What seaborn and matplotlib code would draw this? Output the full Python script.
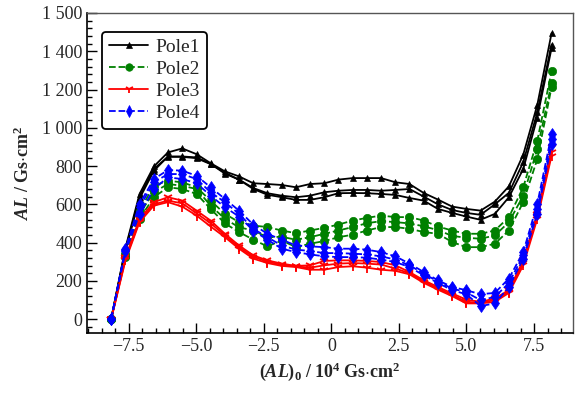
import numpy as np
import pandas as pd
import seaborn as sns
import matplotlib
matplotlib.use('Agg')
import matplotlib.pyplot as plt
from matplotlib.ticker import MultipleLocator, FixedLocator, FuncFormatter

# x positions of the measurement points, (AL)0 in 10^4 Gs*cm^2
x = [-8.15, -7.62, -7.10, -6.57, -6.05, -5.52, -4.99, -4.47, -3.94, -3.42, -2.89,
     -2.37, -1.84, -1.31, -0.79, -0.26, 0.26, 0.79, 1.31, 1.84, 2.37, 2.89, 3.42,
     3.94, 4.47, 4.99, 5.52, 6.05, 6.57, 7.10, 7.62, 8.15]

# each pole was measured three times -> three curves per pole
pole1 = [
    [0, 373, 654, 798, 871, 892, 862, 815, 772, 746, 710, 706, 701, 689, 706, 710,
     729, 737, 737, 737, 715, 706, 659, 625, 588, 576, 567, 614, 694, 859, 1119, 1495],
    [0, 365, 640, 785, 848, 848, 841, 810, 765, 729, 685, 658, 645, 637, 645, 663,
     671, 675, 675, 671, 675, 680, 640, 600, 570, 555, 545, 600, 660, 820, 1080, 1435],
    [0, 360, 630, 775, 850, 850, 845, 812, 760, 729, 680, 650, 637, 623, 623, 637,
     658, 659, 658, 654, 649, 633, 619, 576, 555, 536, 519, 550, 637, 784, 1053, 1417],
]
pole2 = [
    [0, 342, 567, 697, 723, 715, 689, 619, 550, 507, 489, 481, 463, 449, 463, 477,
     494, 515, 529, 541, 533, 533, 515, 484, 463, 446, 446, 463, 533, 689, 932, 1296],
    [0, 330, 550, 663, 706, 697, 680, 593, 524, 480, 463, 428, 430, 415, 428, 446,
     463, 481, 501, 512, 507, 500, 485, 465, 435, 425, 420, 437, 507, 645, 888, 1235],
    [0, 325, 524, 637, 689, 680, 654, 576, 500, 455, 415, 380, 411, 376, 394, 408,
     428, 441, 463, 481, 481, 472, 455, 446, 403, 376, 376, 394, 463, 611, 836, 1213],
]
pole3 = [
    [0, 325, 524, 611, 637, 619, 567, 515, 446, 385, 333, 307, 290, 278, 281, 304,
     307, 307, 304, 298, 281, 246, 203, 168, 134, 102, 90, 108, 151, 307, 550, 897],
    [0, 315, 515, 600, 619, 605, 553, 501, 437, 376, 325, 300, 284, 275, 269, 281,
     290, 293, 290, 285, 264, 240, 196, 160, 127, 90, 86, 99, 144, 294, 537, 871],
    [0, 307, 507, 593, 611, 588, 541, 484, 428, 368, 316, 293, 278, 272, 258, 258,
     272, 276, 269, 258, 252, 234, 189, 154, 120, 82, 82, 90, 137, 281, 524, 854],
]
pole4 = [
    [0, 368, 602, 732, 779, 776, 749, 689, 628, 567, 494, 446, 415, 385, 380, 376,
     368, 368, 363, 350, 328, 290, 246, 203, 168, 151, 130, 137, 212, 350, 602, 966],
    [0, 362, 585, 715, 758, 758, 732, 663, 611, 550, 472, 428, 385, 363, 356, 345,
     345, 342, 338, 328, 311, 281, 238, 196, 160, 140, 99, 116, 189, 333, 576, 940],
    [0, 355, 550, 680, 741, 732, 710, 645, 585, 536, 463, 415, 368, 350, 338, 328,
     324, 324, 321, 311, 298, 272, 229, 189, 151, 130, 68, 82, 168, 316, 550, 914],
]

labels = ['Pole1', 'Pole2', 'Pole3', 'Pole4']
poles = [pole1, pole2, pole3, pole4]
colors = ['black', '#008000', '#ff0000', '#0000ff']
styles = ['-', '--', '-', '--']
markers = ['^', 'o', '1', 'd']
msizes = [5, 6, 7, 6.5]

sns.set_style('ticks')
plt.rcParams['font.family'] = ['Liberation Serif', 'DejaVu Serif']
plt.rcParams['mathtext.fontset'] = 'custom'
plt.rcParams['mathtext.rm'] = 'Liberation Serif'
plt.rcParams['mathtext.it'] = 'Liberation Serif:italic'
plt.rcParams['mathtext.bf'] = 'Liberation Serif:bold'
plt.rcParams['mathtext.bfit'] = 'Liberation Serif:italic:bold'

fig = plt.figure(figsize=(5.79, 3.93), dpi=100)
ax = fig.add_axes([0.150, 0.153, 0.840, 0.814])

for lab, curves, c, ls, m, ms in zip(labels, poles, colors, styles, markers, msizes):
    for i, ys in enumerate(curves):
        df = pd.DataFrame({'x': x, 'y': ys})
        sns.lineplot(data=df, x='x', y='y', ax=ax, color=c, linestyle=ls,
                     marker=m, markersize=ms, markeredgewidth=1.3 if m == '1' else 0.5,
                     markeredgecolor=c, linewidth=1.3,
                     label=lab if i == 0 else None, legend=False)

ax.set_xlim(-9.05, 8.95)
ax.set_ylim(-72, 1600)

ax.xaxis.set_major_locator(FixedLocator([-7.5, -5.0, -2.5, 0, 2.5, 5.0, 7.5]))
ax.xaxis.set_minor_locator(MultipleLocator(0.5))
ax.xaxis.set_major_formatter(FuncFormatter(
    lambda v, p: '0' if abs(v) < 1e-9 else ('%.1f' % v).replace('-', '\u2212')))

ytick_vals = [0, 200, 400, 600, 800, 1000, 1200, 1400, 1600]
ytick_text = ['0', '200', '400', '600', '800', '1 000', '1 200', '1 400', '1 500']
ax.yaxis.set_major_locator(FixedLocator(ytick_vals))
ax.set_yticklabels(ytick_text)
ax.yaxis.set_minor_locator(MultipleLocator(40))

ax.tick_params(axis='both', which='major', direction='in', length=7, width=1,
               labelsize=13, top=False, right=False, color='black')
ax.tick_params(axis='both', which='minor', direction='in', length=3.5, width=1,
               top=False, right=False, color='black')

for side in ['left', 'bottom']:
    ax.spines[side].set_color('black')
    ax.spines[side].set_linewidth(1.2)
for side in ['top', 'right']:
    ax.spines[side].set_color('#555555')
    ax.spines[side].set_linewidth(1.0)

ax.set_xlabel(r'$\mathbf{(}\mathbfit{AL}\mathbf{)_0\ /\ 10^4\ Gs{\cdot}cm^2}$',
              fontsize=13, labelpad=4)
ax.set_ylabel(r'$\mathbfit{AL}\mathbf{\ /\ Gs{\cdot}cm^2}$', fontsize=13, labelpad=6)

handles, labs = ax.get_legend_handles_labels()
leg = ax.legend(handles, labs, loc='upper left', bbox_to_anchor=(0.012, 0.972),
                fontsize=14, frameon=True, fancybox=True, framealpha=1,
                edgecolor='black', handlelength=2.0, handletextpad=0.4,
                labelspacing=0.22, borderpad=0.35, markerscale=0.9)
leg.get_frame().set_linewidth(1.3)

fig.savefig('out.png', dpi=100)
